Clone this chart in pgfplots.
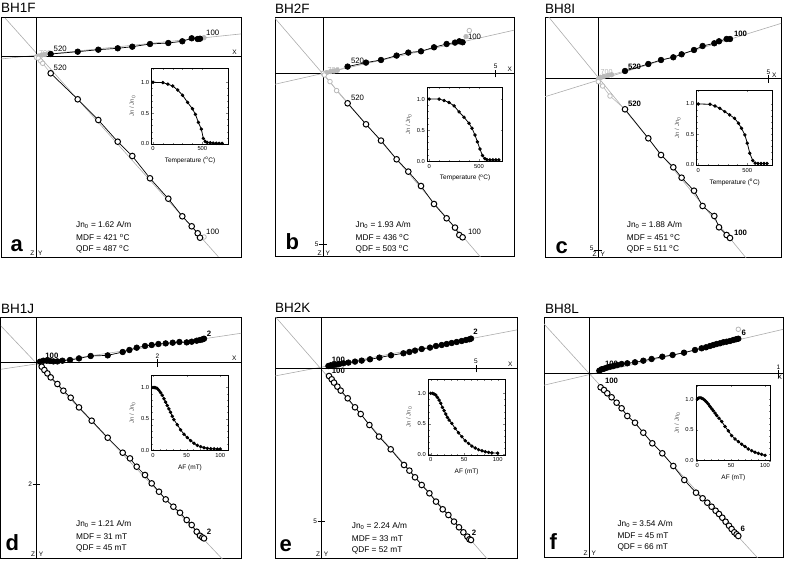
\documentclass[border=0pt]{standalone}
\usepackage{fontspec}
\setmainfont{Liberation Sans}
\usepackage{pgfplots}
\pgfplotsset{compat=1.18}
\newcommand\fs[1]{\fontsize{#1}{#1}\selectfont}
\tikzset{
  lab/.style={font=\fs{7.8}, inner sep=0pt, anchor=west},
  blab/.style={font=\fs{7.8}\bfseries, inner sep=0pt, anchor=west},
  glab/.style={font=\fs{7.2}, text=gray!60, inner sep=0pt, anchor=west},
  sm/.style={font=\fs{6.5}, inner sep=0pt}
}
\pgfplotsset{
  zij/.style={scale only axis, ticks=none, axis line style={line width=1pt}, anchor=south west, clip=true},
  fit/.style={gray!65, line width=0.6pt, no marks},
  axl/.style={black, line width=1pt, no marks},
  hf/.style={black, line width=0.7pt, mark=*, mark size=2.8pt, mark options={fill=black, solid}},
  vo/.style={black, line width=0.7pt, mark=*, mark size=2.8pt, mark options={fill=white, line width=1pt, solid}},
  ghf/.style={gray!55, line width=0.6pt, mark=*, mark size=2.3pt, mark options={fill=gray!55}},
  gvo/.style={gray!55, line width=0.6pt, mark=*, mark size=2.3pt, mark options={fill=white, line width=0.8pt}},
  inset/.style={scale only axis, anchor=south west, axis background/.style={fill=white},
    axis line style={line width=0.7pt},
    /pgf/number format/assume math mode=true,
    tick label style={font=\fs{5.8}}, ytick={0,0.5,1}, yticklabels={0.0,0.5,1.0},
    minor y tick num=4, tick align=inside, major tick length=2.2pt, minor tick length=1.3pt,
    xticklabel style={yshift=1pt}, yticklabel style={xshift=1pt},
    ylabel={Jn / Jn\textsubscript{0}}, ylabel style={font=\fs{6}, text=gray!70!black, at={(axis description cs:-0.25,0.5)}, anchor=center},
    xlabel style={font=\fs{6.5}, at={(axis description cs:0.5,-0.22)}, anchor=center}},
  thermal/.style={inset, xtick={0,500}, minor x tick num=4, xlabel={Temperature (\textsuperscript{o}C)}},
  af/.style={inset, xtick={0,50,100}, minor x tick num=4, xlabel={AF (mT)}},
  curve/.style={black, line width=0.8pt, mark=*, mark size=1.3pt}
}
\begin{document}
\begin{tikzpicture}
\useasboundingbox (0,0) rectangle (787pt,560pt);
% ---------------- panel a ----------------
\begin{axis}[zij, at={(1pt,302pt)}, width=240pt, height=240pt, xmin=-35, xmax=205, ymin=-201, ymax=39]
\addplot[fit] coordinates {(-40,-2.5) (210,23.6)};
\addplot[fit] coordinates {(-31,39) (182.3,-199.7)};
\addplot[axl] coordinates {(-35,0) (205,0)};
\addplot[axl] coordinates {(0,-201) (0,39)};
\addplot[ghf] coordinates {(0.5,0.3) (3,1) (6,2) (9,2.5) (14.7,3)};
\addplot[ghf] coordinates {(164,18.3) (168,19.3)};
\addplot[gvo] coordinates {(0.5,-0.5) (2.3,-1.3) (4.7,-4) (6.7,-6.3) (14.7,-16.3)};
\addplot[gvo] coordinates {(164,-180.7) (168,-180)};
\addplot[hf] coordinates {(14.7,3) (41.7,5.3) (62.3,7.3) (81.7,8.7) (96.3,10.3) (114,13) (132.3,14) (146.3,15.7) (155.7,18.7) (161.7,18) (164,18.3)};
\addplot[vo] coordinates {(14.7,-16.3) (41.7,-42.3) (62.3,-63) (81.7,-84.7) (96.3,-99) (114,-121.3) (132.3,-141.7) (146.3,-159.3) (155.7,-169.3) (161.7,-176.3) (164,-180.7)};
\node[lab] at (axis cs:17.5,8) {520};
\node[lab] at (axis cs:17.5,-11) {520};
\node[glab] at (axis cs:3,3.5) {700};
\node[lab] at (axis cs:170,24.5) {100};
\node[lab] at (axis cs:170,-174.5) {100};
\node[sm] at (axis cs:198.5,4.7) {X};
\node[sm, anchor=south east] at (axis cs:-1.5,-199) {Z};
\node[sm, anchor=south west] at (axis cs:2,-199) {Y};
\end{axis}
% ---------------- panel b ----------------
\begin{axis}[zij, at={(275pt,303pt)}, width=239pt, height=239pt, xmin=-48.3, xmax=190.7, ymin=-183.7, ymax=55.3]
\addplot[fit] coordinates {(-60,-13.6) (200,45.2)};
\addplot[fit] coordinates {(-50,57) (160,-187)};
\addplot[axl] coordinates {(-48.3,0) (190.7,0)};
\addplot[axl] coordinates {(0,-183.7) (0,55.3)};
\addplot[ghf] coordinates {(0,0) (3.3,0.7) (7.3,1.7) (10.7,2.3) (14,3) (24.3,6.7)};
\addplot[ghf] coordinates {(139.3,31) (142.7,36.7)};
\addplot[gvo, only marks] coordinates {(146,42.7)};
\addplot[gvo] coordinates {(0,0) (1,-1.7) (6.7,-8.3) (13.3,-17.3) (24.3,-30)};
\addplot[hf] coordinates {(24.3,6.7) (42.7,10.7) (57.7,13.3) (73.3,17.7) (85,20.7) (97.7,22) (110.7,26) (123.3,29.3) (131.7,30.7) (136,32) (139.3,31)};
\addplot[vo] coordinates {(24.3,-30) (42.7,-51) (57.7,-67.3) (73.3,-86) (85,-98.3) (97.7,-112.7) (110.7,-130.7) (123.3,-145) (131.7,-154.3) (136,-161.7) (139.3,-164)};
\draw[black, line width=0.6pt] (axis cs:172.3,-4) -- (axis cs:172.3,3.5);
\node[sm, anchor=south] at (axis cs:172.3,4.5) {5};
\draw[black, line width=0.6pt] (axis cs:-4,-170.7) -- (axis cs:3.5,-170.7);
\node[sm, anchor=east] at (axis cs:-4.5,-170.7) {5};
\node[lab] at (axis cs:27.5,12.3) {520};
\node[lab] at (axis cs:27.5,-24.3) {520};
\node[glab] at (axis cs:4,3.6) {700};
\node[lab] at (axis cs:144.5,36.7) {100};
\node[lab] at (axis cs:144.5,-158.3) {100};
\node[sm] at (axis cs:186.5,4.2) {X};
\node[sm, anchor=south east] at (axis cs:-1.5,-182) {Z};
\node[sm, anchor=south west] at (axis cs:2,-182) {Y};
\end{axis}
% ---------------- panel c ----------------
\begin{axis}[zij, at={(545pt,302pt)}, width=236pt, height=240pt, xmin=-53.3, xmax=182.7, ymin=-179, ymax=61]
\addplot[fit] coordinates {(-60,-19.8) (195,59.4)};
\addplot[fit] coordinates {(-55,68.6) (155,-187.8)};
\addplot[axl] coordinates {(-53.3,0) (182.7,0)};
\addplot[axl] coordinates {(0,-179) (0,61)};
\addplot[ghf] coordinates {(0,0) (2.3,1.7) (5.7,2.7) (10,3.7) (13.3,4.3) (26.7,8)};
\addplot[gvo] coordinates {(0,-2.7) (4.3,-7) (11.7,-17) (26.7,-30.3)};
\addplot[hf] coordinates {(26.7,8) (50,15) (62.7,19) (75,21.7) (83.3,24.7) (95.7,29) (104.3,33) (116,35.7) (120.7,37.7) (128.3,40) (131.7,40)};
\addplot[vo] coordinates {(26.7,-30.3) (50,-59.3) (62.7,-76) (75,-88.3) (83.3,-98.7) (95.7,-111.7) (104.3,-127) (116,-137) (120.7,-148.3) (128.3,-156) (131.7,-159)};
\draw[black, line width=0.6pt] (axis cs:170,-4) -- (axis cs:170,3.5);
\node[sm, anchor=south] at (axis cs:170,4.5) {5};
\draw[black, line width=0.6pt] (axis cs:-4,-171) -- (axis cs:3.5,-171);
\node[sm, anchor=east] at (axis cs:-4.5,-169.5) {5};
\node[blab] at (axis cs:29.5,12.3) {520};
\node[blab] at (axis cs:29.5,-25) {520};
\node[glab] at (axis cs:2,7.3) {700};
\node[blab] at (axis cs:135.5,44.7) {100};
\node[blab] at (axis cs:135.5,-154.3) {100};
\node[sm] at (axis cs:176,4.2) {X};
\node[sm, anchor=south east] at (axis cs:-1.5,-177.5) {Z};
\node[sm, anchor=south west] at (axis cs:2,-177.5) {Y};
\end{axis}
% ---------------- panel d ----------------
\begin{axis}[zij, at={(1pt,2pt)}, width=240pt, height=240pt, xmin=-35.7, xmax=204.3, ymin=-195.3, ymax=44.7]
\addplot[fit] coordinates {(-40,-7.2) (210,30.3)};
\addplot[fit] coordinates {(-40,41.2) (190,-200.9)};
\addplot[axl] coordinates {(-35.7,0) (204.3,0)};
\addplot[axl] coordinates {(0,-195.3) (0,44.7)};
\addplot[hf] coordinates {(3.3,1) (6.7,2) (10,2) (13.3,1.7) (16.7,1.3) (20.7,1.3) (25.7,2) (33.3,2.7) (42.3,4.3) (54,6.7) (71,7.3) (86,10.7) (92.7,12.7) (100,15) (108.3,16.7) (115,17.7) (121.7,18.7) (129,19.3) (136,20) (142.7,20.7) (150,20.3) (155,21) (160,22) (163.3,22.7) (165.7,23.3) (167.3,24)};
\addplot[vo] coordinates {(5,-4) (7.7,-7.3) (10.7,-10.7) (14,-14.7) (20.7,-21.3) (26.7,-28) (34,-35) (42.3,-44.7) (55,-58) (71,-75) (86,-90) (93.3,-95.7) (100,-104) (108.3,-112.3) (115,-120.7) (122.3,-129) (129,-136.7) (136.7,-144) (143.3,-150) (150,-157.3) (155,-162.3) (160,-169) (163.3,-173) (165.7,-174.7) (167.3,-175.7)};
\draw[black, line width=0.6pt] (axis cs:120.7,-4) -- (axis cs:120.7,3.5);
\node[sm, anchor=south] at (axis cs:120.7,4.5) {2};
\draw[black, line width=0.6pt] (axis cs:-4,-121.7) -- (axis cs:3.5,-121.7);
\node[sm, anchor=east] at (axis cs:-4.5,-121.7) {2};
\node[blab] at (axis cs:8.5,7) {100};
\node[blab] at (axis cs:170,29.3) {2};
\node[blab] at (axis cs:170,-169) {2};
\node[sm] at (axis cs:197.5,4.2) {X};
\node[sm, anchor=south east] at (axis cs:-1.5,-193.5) {Z};
\node[sm, anchor=south west] at (axis cs:2,-193.5) {Y};
\end{axis}
% ---------------- panel e ----------------
\begin{axis}[zij, at={(275pt,2pt)}, width=242pt, height=240pt, xmin=-46.7, xmax=195.3, ymin=-189.7, ymax=50.3]
\addplot[fit] coordinates {(-50,-8.3) (200,39.3)};
\addplot[fit] coordinates {(-50,55.7) (170,-195.7)};
\addplot[axl] coordinates {(-46.7,0) (195.3,0)};
\addplot[axl] coordinates {(0,-189.7) (0,50.3)};
\addplot[hf] coordinates {(6.7,2.3) (9,3) (11.7,3.3) (14.3,3.7) (17.7,4.3) (21.7,5) (26.7,5.7) (33.3,6.7) (40,7.7) (48.3,9) (57.7,10.7) (69.3,13) (81.7,15) (87.7,16.3) (93.3,17.7) (100,19.3) (108.3,20.7) (114.3,22.3) (120,23.3) (125,24.3) (130,25.3) (135,26.3) (140,27.3) (144.3,28.3) (147.7,29) (149.3,29.7)};
\addplot[vo] coordinates {(7.3,-7.7) (10,-11) (12.3,-14.3) (15.7,-18.3) (19,-22.3) (26,-30) (33.3,-39) (39,-45.7) (47.7,-56.7) (57.3,-68.3) (69,-81) (82.3,-96.7) (87.7,-102.3) (93.3,-109) (100,-116.7) (107.7,-125) (114.3,-133.3) (121,-141) (126.7,-146.7) (132.3,-153.3) (137.3,-159) (141.7,-164) (145.7,-168.3) (147.7,-171) (149.3,-171.7)};
\draw[black, line width=0.6pt] (axis cs:154.3,-4) -- (axis cs:154.3,3.5);
\node[sm, anchor=south] at (axis cs:154.3,4.5) {5};
\draw[black, line width=0.6pt] (axis cs:-4,-153.3) -- (axis cs:3.5,-153.3);
\node[sm, anchor=east] at (axis cs:-4.5,-153.3) {5};
\node[blab] at (axis cs:10,8.3) {100};
\node[blab] at (axis cs:10,-2.7) {100};
\node[blab] at (axis cs:151.5,36.7) {2};
\node[blab] at (axis cs:150,-164.3) {2};
\node[sm] at (axis cs:188.5,4.2) {X};
\node[sm, anchor=south east] at (axis cs:-1.5,-188) {Z};
\node[sm, anchor=south west] at (axis cs:2,-188) {Y};
\end{axis}
% ---------------- panel f ----------------
\begin{axis}[zij, at={(544pt,3pt)}, width=239pt, height=239pt, xmin=-45.3, xmax=193.7, ymin=-183, ymax=56]
\addplot[fit] coordinates {(-50,-12.3) (200,46.1)};
\addplot[fit] coordinates {(-50,55.2) (175,-191.2)};
\addplot[axl] coordinates {(-45.3,0) (193.7,0)};
\addplot[axl] coordinates {(0,-183) (0,56)};
\addplot[gvo, only marks] coordinates {(149,44.7)};
\addplot[hf] coordinates {(10,3.3) (12.3,4.7) (14.7,5.3) (17.3,6.3) (20.7,7.3) (24,8) (28,9) (32.3,10) (38,10.7) (45.7,11.7) (54,13.3) (62.3,15) (73,17.3) (83.3,19) (94.7,21.3) (105.7,24) (112.3,25.7) (116.7,26.7) (120.7,28) (124,29) (127.3,30) (130.7,30.7) (134,31.7) (137.3,32.3) (140.7,33) (144,34) (146.7,34.7) (149,35.3)};
\addplot[vo] coordinates {(11.3,-13.3) (14.7,-16) (18,-19.3) (22.3,-23.3) (27.3,-28.7) (32.3,-34.3) (38,-42) (45.7,-48.7) (54,-58.7) (63,-69.3) (73,-79.3) (84,-92) (95,-106) (106.7,-118.7) (113.3,-124.3) (118,-128.7) (122.3,-132.7) (126.3,-136.7) (129.7,-140) (133,-143.7) (136.3,-147.7) (139.7,-151.7) (142.3,-155) (145,-158.3) (147.3,-160.3) (149,-162)};
\draw[black, line width=0.6pt] (axis cs:189,-4) -- (axis cs:189,3.5);
\node[sm, anchor=south] at (axis cs:189,4) {1};
\node[blab] at (axis cs:15.5,10) {100};
\node[blab] at (axis cs:15.5,-6.7) {100};
\node[blab] at (axis cs:152,40.7) {6};
\node[blab] at (axis cs:151,-155.3) {6};
\node[sm] at (axis cs:190.5,-3.5) {X};
\node[sm, anchor=south east] at (axis cs:-1.5,-181.5) {Z};
\node[sm, anchor=south west] at (axis cs:2,-181.5) {Y};
\end{axis}
% ---------------- insets ----------------
\begin{axis}[thermal, at={(151.7pt,416pt)}, width=76.6pt, height=75.7pt, xmin=-13, xmax=763, ymin=0, ymax=1.227]
\addplot[curve] coordinates {(0,1) (100,0.995) (150,0.97) (200,0.94) (250,0.875) (300,0.79) (350,0.675) (400,0.57) (430,0.48) (460,0.35) (490,0.24) (510,0.09) (530,0.04) (550,0.025) (580,0.02) (610,0.015) (640,0.012) (670,0.01) (700,0.01)};
\end{axis}
\begin{axis}[thermal, at={(427.5pt,398.3pt)}, width=75.3pt, height=74.4pt, xmin=-17, xmax=740, ymin=-0.01, ymax=1.19]
\addplot[curve] coordinates {(0,1) (100,1) (150,0.977) (200,0.945) (250,0.891) (300,0.794) (350,0.708) (400,0.61) (430,0.53) (460,0.42) (485,0.31) (510,0.195) (535,0.09) (560,0.04) (580,0.025) (610,0.02) (640,0.02) (670,0.02) (700,0.02)};
\end{axis}
\begin{axis}[thermal, at={(696.7pt,394.3pt)}, width=76pt, height=75.7pt, xmin=-16, xmax=759, ymin=-0.016, ymax=1.23]
\addplot[curve] coordinates {(0,1) (120,0.995) (170,0.967) (220,0.929) (270,0.874) (320,0.82) (370,0.764) (410,0.682) (440,0.6) (475,0.49) (500,0.354) (525,0.19) (555,0.07) (580,0.027) (610,0.02) (640,0.02) (670,0.02) (700,0.02)};
\end{axis}
\begin{axis}[af, at={(151.7pt,109.3pt)}, width=76.6pt, height=75.7pt, xmin=-2, xmax=112, ymin=-0.01, ymax=1.2]
\addplot[curve] coordinates {(0,1) (2,1) (4,0.995) (6.2,0.983) (8.7,0.956) (11.2,0.918) (13.7,0.875) (16.2,0.821) (18.7,0.767) (21.1,0.713) (23.6,0.659) (26.1,0.605) (28.6,0.54) (31.1,0.486) (36.1,0.405) (41,0.324) (46,0.254) (51,0.2) (56,0.151) (60.9,0.108) (65.9,0.076) (70.9,0.054) (75.9,0.038) (80.8,0.027) (85.8,0.022) (90.8,0.02) (95.8,0.016) (100,0.016)};
\end{axis}
\begin{axis}[af, at={(428.3pt,105pt)}, width=76.7pt, height=75.7pt, xmin=-3.6, xmax=111, ymin=-0.01, ymax=1.23]
\addplot[curve] coordinates {(0,1) (3,1) (5,0.99) (7.5,0.973) (10,0.935) (12.5,0.89) (15,0.836) (17.5,0.77) (20,0.716) (22.5,0.661) (25,0.607) (27.5,0.563) (31.5,0.508) (36.5,0.426) (41.5,0.355) (46.5,0.29) (51.5,0.224) (56.5,0.18) (61.5,0.137) (66.5,0.104) (71.5,0.077) (76.5,0.06) (81.5,0.044) (86.5,0.033) (91.5,0.025) (100,0.02)};
\end{axis}
\begin{axis}[af, at={(696pt,99.3pt)}, width=74.7pt, height=75.7pt, xmin=-2, xmax=108.4, ymin=0, ymax=1.23]
\addplot[curve] coordinates {(0,1) (1.5,1.016) (3.9,1.022) (6.4,1.016) (8.9,1) (11.3,0.979) (13.8,0.952) (16.3,0.92) (18.7,0.882) (21.2,0.843) (23.6,0.811) (26.1,0.773) (28.6,0.735) (32,0.691) (36,0.637) (40.9,0.555) (45.8,0.484) (50.7,0.408) (55.6,0.354) (60.6,0.31) (65.5,0.267) (70.4,0.229) (75.3,0.19) (80.3,0.163) (85.2,0.136) (90.1,0.12) (95.1,0.103) (100,0.087)};
\end{axis}
% ---------------- texts ----------------
\begin{scope}[every node/.style={inner sep=0pt}]
\node[anchor=base west, font=\fs{13.5}] at (1pt,547.3pt) {BH1F};
\node[anchor=base west, font=\fs{13.5}] at (275pt,546.7pt) {BH2F};
\node[anchor=base west, font=\fs{13.5}] at (545pt,546.7pt) {BH8I};
\node[anchor=base west, font=\fs{13.5}] at (1pt,246.7pt) {BH1J};
\node[anchor=base west, font=\fs{13.5}] at (275pt,247.3pt) {BH2K};
\node[anchor=base west, font=\fs{13.5}] at (545pt,246.7pt) {BH8L};
\node[anchor=base west, font=\fs{22}\bfseries] at (10.5pt,308.3pt) {a};
\node[anchor=base west, font=\fs{22}\bfseries] at (285.5pt,310pt) {b};
\node[anchor=base west, font=\fs{22}\bfseries] at (555.5pt,306.7pt) {c};
\node[anchor=base west, font=\fs{22}\bfseries] at (5.5pt,10pt) {d};
\node[anchor=base west, font=\fs{22}\bfseries] at (279.5pt,8.3pt) {e};
\node[anchor=base west, font=\fs{22}\bfseries] at (549.5pt,10.7pt) {f};
\begin{scope}[every node/.style={inner sep=0pt, anchor=west, font=\fs{8.3}}]
\node at (76pt,335pt) {Jn\textsubscript{0} = 1.62 A/m};
\node at (76pt,322.3pt) {MDF = 421 \textsuperscript{o}C};
\node at (76pt,310.7pt) {QDF = 487 \textsuperscript{o}C};
\node at (355.5pt,335pt) {Jn\textsubscript{0} = 1.93 A/m};
\node at (355.5pt,322.3pt) {MDF = 436 \textsuperscript{o}C};
\node at (355.5pt,310.7pt) {QDF = 503 \textsuperscript{o}C};
\node at (626.7pt,335pt) {Jn\textsubscript{0} = 1.88 A/m};
\node at (626.7pt,322.7pt) {MDF = 451 \textsuperscript{o}C};
\node at (626.7pt,310.7pt) {QDF = 511 \textsuperscript{o}C};
\node at (76pt,35.7pt) {Jn\textsubscript{0} = 1.21 A/m};
\node at (76pt,23.3pt) {MDF = 31 mT};
\node at (76pt,11.7pt) {QDF = 45 mT};
\node at (351.7pt,34pt) {Jn\textsubscript{0} = 2.24 A/m};
\node at (351.7pt,21.3pt) {MDF = 33 mT};
\node at (351.7pt,10pt) {QDF = 52 mT};
\node at (617.3pt,36pt) {Jn\textsubscript{0} = 3.54 A/m};
\node at (617.3pt,24pt) {MDF = 45 mT};
\node at (617.3pt,12.7pt) {QDF = 66 mT};
\end{scope}
\end{scope}
\end{tikzpicture}
\end{document}
